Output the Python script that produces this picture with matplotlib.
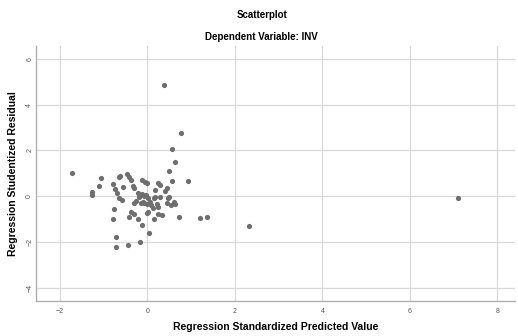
import matplotlib
matplotlib.use("Agg")
import matplotlib.pyplot as plt

# Данные
pred = [-1.73, -1.06, -1.10, -1.27, -1.27, -0.78, -0.74, -0.70, -0.65, -0.58,
        -0.66, -0.62, -0.46, -0.42, -0.57, -0.37, -0.34, -0.31, -0.13, -0.05,
        0.00, -0.22, -0.17, -0.12, -0.08, -0.03, -0.19, -0.27, -0.11, 0.01,
        0.06, 0.14, 0.18, 0.25, 0.29, 0.29, 0.21, 0.25, 0.12, 0.44,
        0.40, 0.50, 0.56, 0.60, 0.64, 0.92, 0.48, 0.38, 0.77, 0.57,
        0.63, 0.02, -0.37, -0.76, -0.80, -0.43, -0.30, -0.21, -0.13, -0.01,
        0.04, 0.15, 0.24, 0.33, 0.71, 1.20, 1.37, 2.32, 7.10, -0.72,
        -0.72, -0.45, -0.17, -0.30, -0.14, -0.09, 0.00, 0.08, 0.45, 0.53,
        0.17, 0.50]
resid = [1.02, 0.80, 0.45, 0.19, 0.04, 0.55, 0.34, 0.14, -0.08, -0.14,
         0.86, 0.90, 0.96, 0.86, 0.42, 0.71, 0.46, 0.35, 0.71, 0.64,
         0.60, 0.13, 0.05, 0.10, 0.02, 0.08, -0.02, -0.20, -0.23, -0.09,
         -0.26, -0.09, 0.27, 0.57, 0.50, -0.02, -0.35, -0.45, -0.52, 0.35,
         0.22, 1.10, 0.68, -0.23, -0.34, 0.68, -0.05, 4.84, 2.74, 2.06,
         1.48, -0.67, -0.67, -0.57, -1.00, -0.89, -0.77, -0.99, -1.25, -0.71,
         -1.61, -1.00, -0.77, -0.81, -0.89, -0.92, -0.90, -1.28, -0.07, -1.79,
         -2.19, -2.12, -1.98, -0.28, -0.30, -0.30, -0.33, -0.38, -0.30, -0.38,
         -0.02, -0.02]
xticks = [-2, 0, 2, 4, 6, 8]
yticks = [-4, -2, 0, 2, 4, 6]

plt.rcParams['font.family'] = ['Liberation Sans', 'DejaVu Sans']

fig = plt.figure(figsize=(5.18, 3.36), dpi=100)
ax = fig.add_axes([0.0695, 0.104, 0.925, 0.759])

ax.scatter(pred, resid, s=14, color='#6e6e6e', linewidths=0, zorder=3)

ax.set_xlim(-2.55, 8.41)
ax.set_ylim(-4.56, 6.55)
ax.set_xticks(xticks)
ax.set_yticks(yticks)
ax.grid(True, color='#d9d9d9', linewidth=0.9)
ax.set_axisbelow(True)

for side in ['top', 'right']:
    ax.spines[side].set_visible(False)
for side in ['left', 'bottom']:
    ax.spines[side].set_color('#b0b0b0')
    ax.spines[side].set_linewidth(1.0)

ax.tick_params(axis='x', length=0, labelsize=5, labelcolor='#555555', pad=5)
ax.tick_params(axis='y', length=0, labelsize=5, labelcolor='#555555', pad=2)
for lbl in ax.get_yticklabels():
    lbl.set_rotation(90)
    lbl.set_va('center')

ax.set_xlabel('Regression Standardized Predicted Value', fontsize=7.5,
              fontweight='bold', labelpad=5)
ax.set_ylabel('Regression Studentized Residual', fontsize=7.5,
              fontweight='bold', labelpad=6)

fig.text(0.505, 0.955, 'Scatterplot', ha='center', va='center',
         fontsize=7, fontweight='bold')
fig.text(0.505, 0.89, 'Dependent Variable: INV', ha='center', va='center',
         fontsize=7, fontweight='bold')

fig.savefig('out.png', dpi=100)
